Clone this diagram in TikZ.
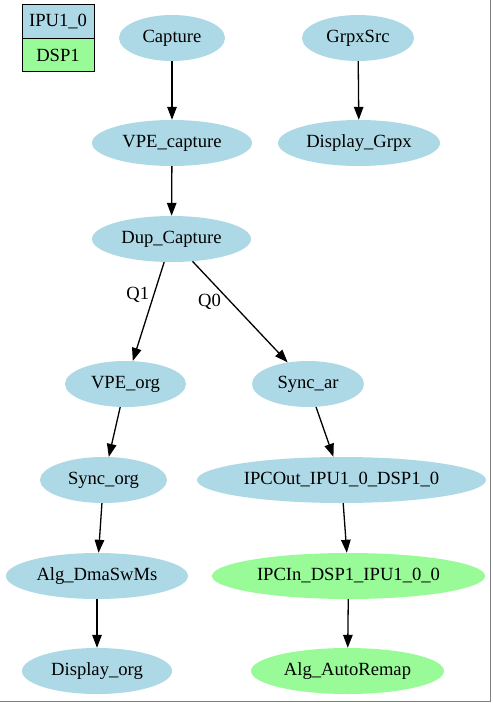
\documentclass[tikz,border=0pt]{standalone}
\usepackage{fontspec}
\setmainfont{Liberation Serif}
\usetikzlibrary{shapes.geometric,arrows.meta}
\definecolor{ipublue}{HTML}{ADD8E6}
\definecolor{dspgreen}{HTML}{98FB98}
\tikzset{
  txt/.style={font=\fontsize{18.6}{20}\selectfont},
  blk/.style={ellipse, inner sep=0pt, minimum height=46pt, txt},
  ipu/.style={blk, fill=ipublue},
  dsp/.style={blk, fill=dspgreen},
  legendbox/.style={rectangle, draw=black, line width=1pt, inner sep=0pt,
    minimum width=72pt, minimum height=33.5pt, txt},
  link/.style={draw=black, line width=1.3pt, -{Triangle[length=13pt,width=9.5pt]}},
  qlabel/.style={txt, inner sep=0pt}
}
\begin{document}
\begin{tikzpicture}[x=1pt,y=-1pt]
\useasboundingbox (0,0) rectangle (492,703);
\fill[white] (0,0) rectangle (492,703);
% frame on right and bottom edges
\draw[gray, line width=1.2pt] (490.5,0) -- (490.5,701.5) -- (0,701.5);

% legend
\node[legendbox, fill=ipublue] (lgipu) at (58,21.75) {IPU1\_0};
\node[legendbox, fill=dspgreen] (lgdsp) at (58,55.25) {DSP1};

% processing chain
\node[ipu, minimum width=106pt] (cap) at (172,38) {Capture};
\node[ipu, minimum width=112pt] (grpx) at (358,38) {GrpxSrc};
\node[ipu, minimum width=160pt] (vpecap) at (172,143) {VPE\_capture};
\node[ipu, minimum width=162pt] (dispgrpx) at (359,143) {Display\_Grpx};
\node[ipu, minimum width=159pt] (dup) at (171.5,239) {Dup\_Capture};
\node[ipu, minimum width=121pt] (vpeorg) at (125.5,384) {VPE\_org};
\node[ipu, minimum width=112pt] (syncar) at (308,384) {Sync\_ar};
\node[ipu, minimum width=127pt] (syncorg) at (103.5,480) {Sync\_org};
\node[ipu, minimum width=289pt] (ipcout) at (341.5,480) {IPCOut\_IPU1\_0\_DSP1\_0};
\node[ipu, minimum width=182pt] (dmasw) at (97,576) {Alg\_DmaSwMs};
\node[dsp, minimum width=273pt] (ipcin) at (348.5,576) {IPCIn\_DSP1\_IPU1\_0\_0};
\node[ipu, minimum width=150pt] (disporg) at (97,671) {Display\_org};
\node[dsp, minimum width=193pt] (remap) at (347.5,671) {Alg\_AutoRemap};

% connections
\draw[link] (cap) -- (vpecap);
\draw[link] (grpx) -- (dispgrpx);
\draw[link] (vpecap) -- (dup);
\draw[link] (dup) -- node[qlabel, left=4pt, pos=0.33] (q1) {Q1} (vpeorg);
\draw[link] (dup) -- node[qlabel, left=9pt, pos=0.40] (q0) {Q0} (syncar);
\draw[link] (vpeorg) -- (syncorg);
\draw[link] (syncar) -- (ipcout);
\draw[link] (syncorg) -- (dmasw);
\draw[link] (ipcout) -- (ipcin);
\draw[link] (dmasw) -- (disporg);
\draw[link] (ipcin) -- (remap);
\end{tikzpicture}
\end{document}
